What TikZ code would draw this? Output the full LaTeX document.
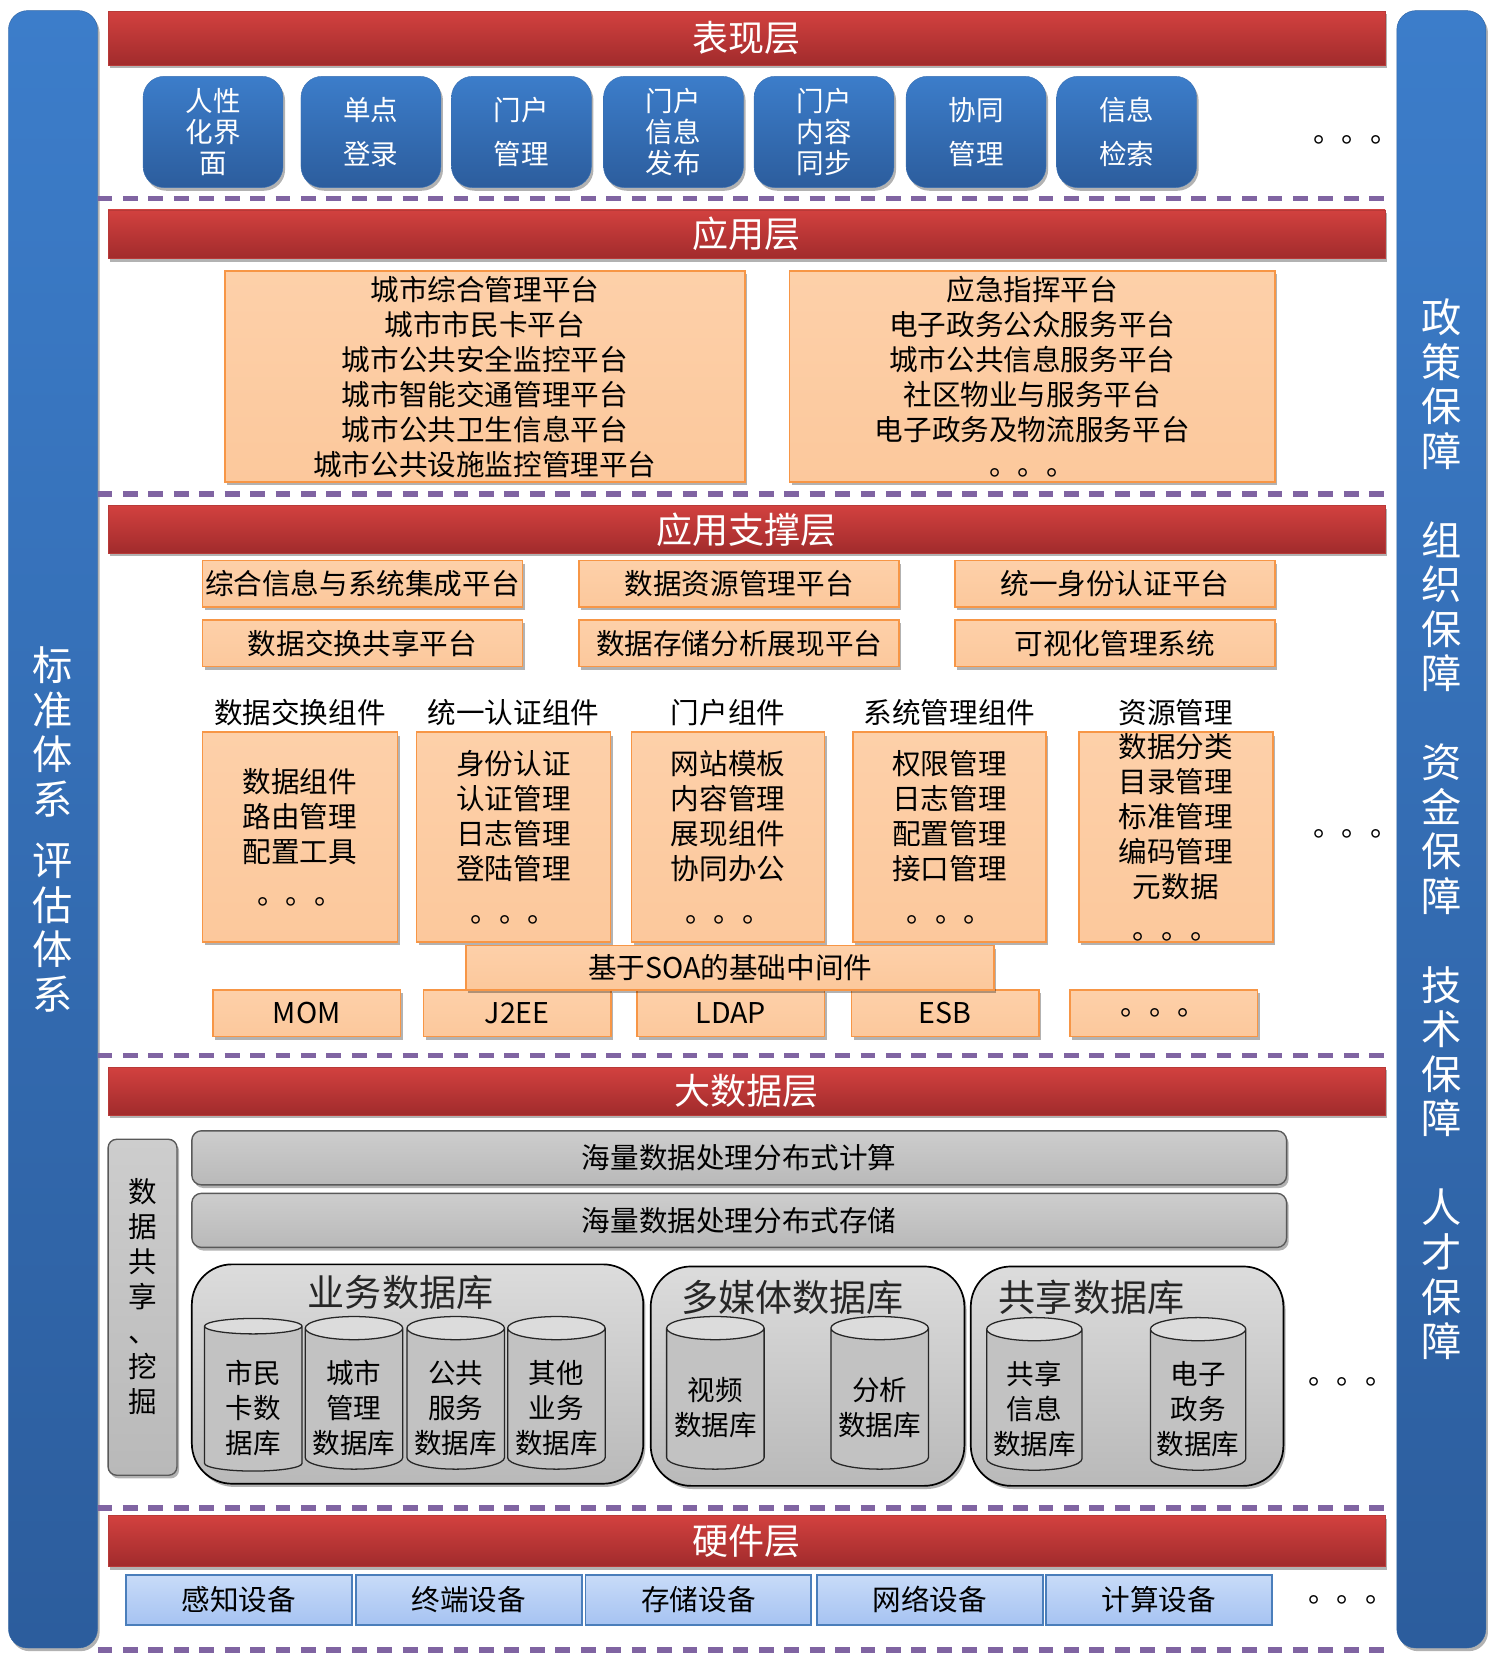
\documentclass[tikz,border=0pt]{standalone}
\usepackage{fontspec}
\setmainfont{Noto Sans CJK SC}
\usetikzlibrary{shapes.geometric,shadows,positioning}
\definecolor{barTop}{HTML}{D2413F}
\definecolor{barBot}{HTML}{A12B2C}
\definecolor{barLine}{HTML}{B83A38}
\definecolor{sideTop}{HTML}{3C7DCA}
\definecolor{sideBot}{HTML}{2C5D9D}
\definecolor{tileLine}{HTML}{3A70B2}
\definecolor{orFill}{HTML}{FCC89C}
\definecolor{orTop}{HTML}{FDD0A9}
\definecolor{orLine}{HTML}{F79646}
\definecolor{grayTop}{HTML}{CDCDCD}
\definecolor{grayBot}{HTML}{B9B9B9}
\definecolor{cylBody}{HTML}{C2C2C2}
\definecolor{cylTop}{HTML}{DCDCDC}
\definecolor{hwTop}{HTML}{C8DBF8}
\definecolor{hwBot}{HTML}{A6C3F2}
\definecolor{hwLine}{HTML}{4A7EBB}
\definecolor{sepPurple}{HTML}{8064A2}
\newcommand{\cylstrut}{\rule{0pt}{39pt}}
\tikzset{
  softshadow/.style={drop shadow={shadow xshift=2pt, shadow yshift=-3pt, opacity=0.3, fill=black}},
  layerbar/.style={rectangle, draw=barLine, top color=barTop, bottom color=barBot, text=white,
    minimum width=1205pt, inner sep=0pt, font=\fontsize{34}{34}\selectfont, softshadow},
  sidebar/.style={rectangle, rounded corners=18pt, top color=sideTop, bottom color=sideBot,
    draw=sideTop!80!black, minimum width=84pt, minimum height=1545pt, text=white, align=center,
    font=\fontsize{38}{42}\selectfont, softshadow},
  tile/.style={rectangle, rounded corners=20pt, top color=sideTop, bottom color=sideBot, draw=tileLine,
    minimum width=132pt, minimum height=105pt, text=white, align=center, inner sep=0pt,
    font=\fontsize{26}{29}\selectfont, softshadow},
  platbox/.style={rectangle, draw=orLine, line width=1.6pt, top color=orTop, bottom color=orFill,
    align=center, inner sep=0pt, font=\fontsize{27}{33}\selectfont, softshadow},
  complabel/.style={inner sep=0pt, font=\fontsize{27}{27}\selectfont},
  graybar/.style={rectangle, rounded corners=9pt, draw=black!65, line width=1.3pt, top color=grayTop,
    bottom color=grayBot, minimum width=1033pt, minimum height=51pt, inner sep=0pt,
    font=\fontsize{27}{27}\selectfont, softshadow},
  dbgroup/.style={rectangle, rounded corners=38pt, draw=black, line width=1.6pt, top color=grayTop!70!white,
    bottom color=grayBot, inner sep=0pt, softshadow},
  grouptitle/.style={inner sep=0pt, text=black!85, font=\fontsize{35}{35}\selectfont},
  stack/.style={inner sep=0pt, align=center, font=\fontsize{#1}{33}\selectfont},
  dbcyl/.style={cylinder, shape border rotate=90, aspect=0.28, draw=black!85, line width=1.2pt,
    cylinder uses custom fill, cylinder body fill=cylBody, cylinder end fill=cylTop,
    minimum width=92pt, minimum height=144pt, inner sep=0pt, align=center,
    font=\fontsize{26}{33}\selectfont},
  hwbox/.style={rectangle, draw=hwLine, line width=1.6pt, top color=hwTop, bottom color=hwBot,
    minimum width=213pt, minimum height=47pt, inner sep=0pt, font=\fontsize{27}{27}\selectfont},
  sepline/.style={draw=sepPurple, line width=5pt, dash pattern=on 14pt off 10pt},
  dots/.style={inner sep=0pt, anchor=base west, font=\fontsize{27}{27}\selectfont}
}
\begin{document}
\begin{tikzpicture}[x=1pt, y=-1pt]
\useasboundingbox (0,0) rectangle (1413,1572);

% side columns
\node[sidebar] (std) at (50,782.5) {标\\准\\体\\系\\[16pt]评\\估\\体\\系};
\node[sidebar] (guar) at (1360,782.5) {政\\策\\保\\障\\[42pt]组\\织\\保\\障\\[42pt]资\\金\\保\\障\\[42pt]技\\术\\保\\障\\[42pt]人\\才\\保\\障};

% layer separators
\foreach \y in {187,466,996,1423,1557}
  \draw[sepline] (92,\y) -- (1307,\y);

% presentation layer
\node[layerbar, minimum height=51pt] (pres) at (704.5,36) {表现层};
\node[tile] (t1) at (201,124.5) {人性\\化界\\面};
\node[tile] (t2) at (350,124.5) {单点\\[12pt]登录};
\node[tile] (t3) at (492,124.5) {门户\\[12pt]管理};
\node[tile] (t4) at (635.5,124.5) {门户\\信息\\发布};
\node[tile] (t5) at (777.5,124.5) {门户\\内容\\同步};
\node[tile] (t6) at (921,124.5) {协同\\[12pt]管理};
\node[tile] (t7) at (1063,124.5) {信息\\[12pt]检索};
\node[dots] (presdots) at (1239,134) {。。。};

% application layer
\node[layerbar, minimum height=46pt] (app) at (704.5,221) {应用层};
\node[platbox, minimum width=491pt, minimum height=199pt] (appl) at (457.5,355.5)
  {城市综合管理平台\\城市市民卡平台\\城市公共安全监控平台\\城市智能交通管理平台\\城市公共卫生信息平台\\城市公共设施监控管理平台};
\node[platbox, minimum width=458pt, minimum height=199pt] (appr) at (974,355.5)
  {应急指挥平台\\电子政务公众服务平台\\城市公共信息服务平台\\社区物业与服务平台\\电子政务及物流服务平台\\。。。};

% application support layer
\node[layerbar, minimum height=45pt] (supp) at (704.5,499.5) {应用支撑层};
\node[platbox, minimum width=302pt, minimum height=44pt] (p1) at (342,551) {综合信息与系统集成平台};
\node[platbox, minimum width=302pt, minimum height=44pt] (p2) at (697.5,551) {数据资源管理平台};
\node[platbox, minimum width=302pt, minimum height=44pt] (p3) at (1052,551) {统一身份认证平台};
\node[platbox, minimum width=302pt, minimum height=44pt] (p4) at (342,607) {数据交换共享平台};
\node[platbox, minimum width=302pt, minimum height=44pt] (p5) at (697.5,607) {数据存储分析展现平台};
\node[platbox, minimum width=302pt, minimum height=44pt] (p6) at (1052,607) {可视化管理系统};

\node[platbox, minimum width=184pt, minimum height=198pt] (c1) at (283,790)
  {数据组件\\路由管理\\配置工具\\[7pt]。。。};
\node[platbox, minimum width=183pt, minimum height=198pt] (c2) at (484.5,790)
  {身份认证\\认证管理\\日志管理\\登陆管理\\[7pt]。。。};
\node[platbox, minimum width=182pt, minimum height=198pt] (c3) at (687,790)
  {网站模板\\内容管理\\展现组件\\协同办公\\[7pt]。。。};
\node[platbox, minimum width=182pt, minimum height=198pt] (c4) at (896,790)
  {权限管理\\日志管理\\配置管理\\接口管理\\[7pt]。。。};
\node[platbox, minimum width=183pt, minimum height=198pt] (c5) at (1109.5,790)
  {数据分类\\目录管理\\标准管理\\编码管理\\元数据\\[7pt]。。。};
\node[complabel, above=5pt of c1] (l1) {数据交换组件};
\node[complabel, above=5pt of c2] (l2) {统一认证组件};
\node[complabel, above=5pt of c3] (l3) {门户组件};
\node[complabel, above=5pt of c4] (l4) {系统管理组件};
\node[complabel, above=5pt of c5] (l5) {资源管理};
\node[dots] (suppdots) at (1239,789) {。。。};

\node[platbox, minimum width=177pt, minimum height=44pt] (mom) at (289.5,956) {MOM};
\node[platbox, minimum width=177pt, minimum height=44pt] (j2ee) at (488,956) {J2EE};
\node[platbox, minimum width=177pt, minimum height=44pt] (ldap) at (689.5,956) {LDAP};
\node[platbox, minimum width=177pt, minimum height=44pt] (esb) at (892,956) {ESB};
\node[platbox, minimum width=177pt, minimum height=44pt] (more) at (1098,956) {。。。};
\node[platbox, minimum width=498pt, minimum height=42pt] (soa) at (689,913) {基于SOA的基础中间件};

% big data layer
\node[layerbar, minimum height=45pt] (big) at (704.5,1029.5) {大数据层};
\node[graybar, rounded corners=8pt, minimum width=65pt, minimum height=317pt,
  label={[stack=27, yshift=10pt]center:{数\\据\\共\\享\\、\\挖\\掘}}] (share) at (134.5,1233.5) {};
\node[graybar] (calc) at (697.5,1092.5) {海量数据处理分布式计算};
\node[graybar] (store) at (697.5,1151.5) {海量数据处理分布式存储};

\node[dbgroup, minimum width=426pt, minimum height=207pt] (g1) at (394,1296.5) {};
\node[dbgroup, minimum width=296pt, minimum height=207pt] (g2) at (762,1298.5) {};
\node[dbgroup, minimum width=295pt, minimum height=207pt] (g3) at (1063.5,1298.5) {};
\node[grouptitle] (g1t) at (378,1220) {业务数据库};
\node[grouptitle] (g2t) at (748,1224) {多媒体数据库};
\node[grouptitle] (g3t) at (1030,1224) {共享数据库};

\node[dbcyl] (d1) at (239,1320) {\cylstrut 市民\\卡数\\据库};
\node[dbcyl] (d2) at (334,1320) {\cylstrut 城市\\管理\\数据库};
\node[dbcyl] (d3) at (430,1320) {\cylstrut 公共\\服务\\数据库};
\node[dbcyl] (d4) at (525,1320) {\cylstrut 其他\\业务\\数据库};
\node[dbcyl] (d5) at (675,1320) {\cylstrut 视频\\数据库};
\node[dbcyl] (d6) at (830,1320) {\cylstrut 分析\\数据库};
\node[dbcyl, minimum width=90pt] (d7) at (976,1321) {\cylstrut 共享\\信息\\数据库};
\node[dbcyl, minimum width=90pt] (d8) at (1130.5,1321) {\cylstrut 电子\\政务\\数据库};
\node[dots] (bigdots) at (1234,1306) {。。。};

% hardware layer
\node[layerbar, minimum height=48pt] (hw) at (704.5,1454) {硬件层};
\node[hwbox] (h1) at (225.5,1509.5) {感知设备};
\node[hwbox] (h2) at (442.5,1509.5) {终端设备};
\node[hwbox] (h3) at (659,1509.5) {存储设备};
\node[hwbox] (h4) at (877.5,1509.5) {网络设备};
\node[hwbox] (h5) at (1093.5,1509.5) {计算设备};
\node[dots] (hwdots) at (1234,1512) {。。。};
\end{tikzpicture}
\end{document}
